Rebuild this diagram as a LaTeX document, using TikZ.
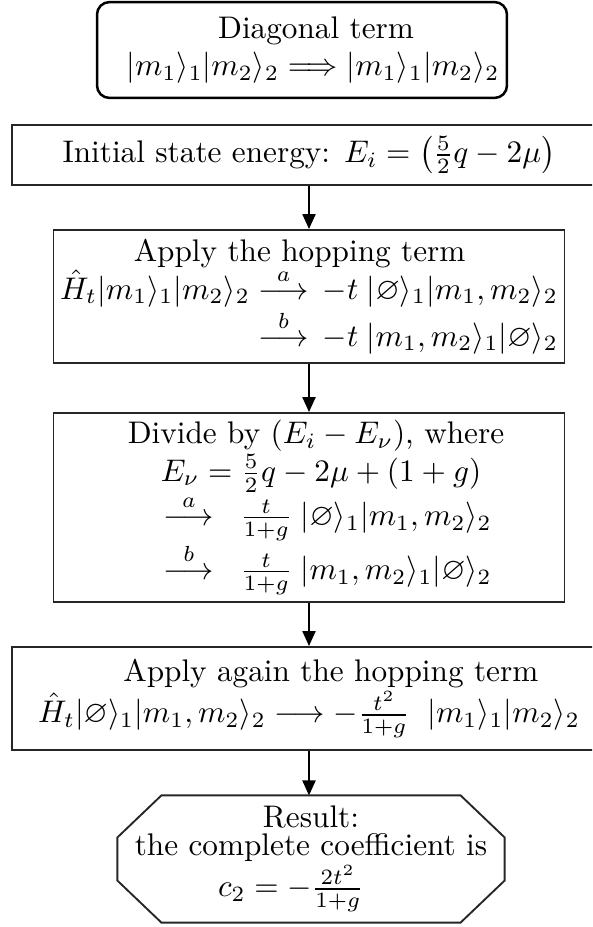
\documentclass[tikz,border=0pt]{standalone}
\usepackage{amsmath,amssymb}
\usetikzlibrary{arrows.meta,calc}

\begin{document}
\begin{tikzpicture}[
  >={Triangle[length=4.8pt,width=4.2pt]},
  x=0.32pt, y=-0.32pt,
  box/.style={draw=black!85, semithick, align=center, inner sep=1pt},
  headbox/.style={box, draw=black, thick, rounded corners=4pt, minimum width=131.2pt, minimum height=30.7pt},
  widebox/.style={box, minimum width=190pt},
  stepbox/.style={box, minimum width=163.5pt},
  resbox/.style={align=center, inner sep=1pt, minimum width=123.5pt, minimum height=40.3pt},
  flow/.style={->, semithick},
]
\clip (0,0) rectangle (592,927);

% ============================== boxes ==============================
\node[headbox] (diag) at (302,50)
  {\hspace*{9pt}Diagonal term\\ \hspace*{7pt}$|m_1\rangle_1|m_2\rangle_2 \Longrightarrow |m_1\rangle_1|m_2\rangle_2$};

\node[widebox, minimum height=19.2pt] (init) at (309,155)
  {Initial state energy: $E_i=\left(\frac{5}{2}q-2\mu\right)$};

\node[stepbox, minimum height=42.6pt] (hop) at (309,296.5)
  {\hspace*{-6pt}Apply the hopping term\\
   $\hat H_t|m_1\rangle_1|m_2\rangle_2\overset{a}{\longrightarrow}\,-t\;|\varnothing\rangle_1|m_1,m_2\rangle_2$\\
   $\hphantom{\hat H_t|m_1\rangle_1|m_2\rangle_2}\overset{b}{\longrightarrow}\,-t\;|m_1,m_2\rangle_1|\varnothing\rangle_2$};

\node[stepbox, minimum height=60.5pt] (div) at (309,507.5)
  {\hspace*{4.5pt}Divide by $(E_i-E_\nu)$, where\\
   \hspace*{7.7pt}$E_\nu=\frac{5}{2}q-2\mu+(1+g)$\\
   \hspace*{12pt}$\overset{a}{\longrightarrow}\;\;\frac{t}{1+g}\;|\varnothing\rangle_1|m_1,m_2\rangle_2$\\
   \hspace*{12pt}$\overset{b}{\longrightarrow}\;\;\frac{t}{1+g}\;|m_1,m_2\rangle_1|\varnothing\rangle_2$};

\node[widebox, minimum height=33pt] (again) at (309,698.5)
  {\hspace*{14pt}Apply again the hopping term\\
   $\hat H_t|\varnothing\rangle_1|m_1,m_2\rangle_2\longrightarrow-\frac{t^2}{1+g}\;\;|m_1\rangle_1|m_2\rangle_2$};

% result: octagon drawn round the node
\node[resbox] (res) at (311,859)
  {Result:\\[-3pt] the complete coefficient is\\ \hspace*{-12.8pt}$c_2=-\frac{2t^2}{1+g}$};
\draw[black!85, semithick]
  ($(res.north west)+(44,0)$) -- ($(res.north east)+(-44,0)$) -- ($(res.north east)+(0,42)$)
  -- ($(res.south east)+(0,-42)$) -- ($(res.south east)+(-44,0)$) -- ($(res.south west)+(44,0)$)
  -- ($(res.south west)+(0,-42)$) -- ($(res.north west)+(0,42)$) -- cycle;

% ============================== arrows ==============================
\draw[flow] (init.south) -- (hop.north);
\draw[flow] (hop.south) -- (div.north);
\draw[flow] (div.south) -- (again.north);
\draw[flow] (again.south) -- (again.south |- res.north);
\end{tikzpicture}
\end{document}
